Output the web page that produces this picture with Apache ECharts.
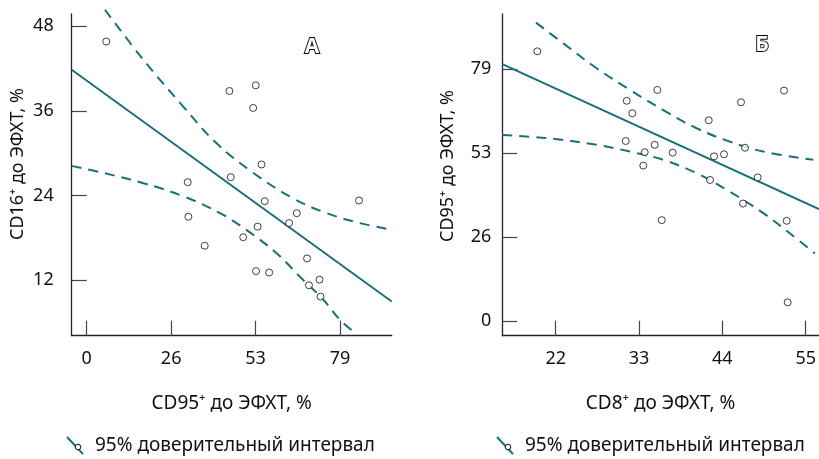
<!DOCTYPE html>
<html>
<head>
<meta charset="utf-8">
<script src="https://cdn.jsdelivr.net/npm/echarts@6/dist/echarts.min.js"></script>
<style>html,body{margin:0;padding:0;background:#fff}#c{width:819px;height:459px}</style>
</head>
<body>
<div id="c"></div>
<script>
// ---- Panel A data ----
var leftX = [6.1, 44.5, 52.7, 51.9, 54.5, 31.5, 44.9, 55.5, 84.9, 31.7, 65.5, 63.1, 53.3, 48.8, 36.8, 68.7, 52.8, 56.9, 72.6, 69.3, 72.9];
var leftY = [45.8, 38.8, 39.6, 36.4, 28.4, 25.9, 26.6, 23.2, 23.3, 21.0, 21.5, 20.1, 19.6, 18.1, 16.9, 15.1, 13.3, 13.1, 12.1, 11.3, 9.7];
var leftFitX = [-4.68, 95.1];
var leftFitY = [41.8, 9.0];
var leftUpperX = [5.7, 17.7, 30.1, 40.5, 52.0, 64.4, 74.9, 85.2, 94.6];
var leftUpperY = [50.3, 43.2, 36.6, 31.4, 27.2, 23.6, 21.5, 20.1, 19.2];
var leftLowerX = [-4.68, 5.2, 17.7, 30.1, 41.6, 49.9, 59.3, 66.5, 73.8, 79.0, 84.2];
var leftLowerY = [28.2, 27.2, 25.75, 23.9, 21.5, 19.1, 15.8, 12.5, 9.25, 6.4, 4.4];
var leftXTicks = [0, 79 / 3, 158 / 3, 79];
var leftYTicks = [12, 24, 36, 48];

// ---- Panel Б data ----
var rightX = [19.57, 35.41, 52.14, 31.37, 46.46, 32.11, 42.2, 31.24, 46.99, 35.07, 33.75, 37.44, 44.22, 42.9, 33.56, 48.66, 42.37, 46.72, 36.0, 52.49, 52.62];
var rightY = [84.6, 72.5, 72.3, 69.1, 68.65, 65.2, 63.0, 56.5, 54.4, 55.3, 53.0, 52.85, 52.35, 51.7, 48.8, 45.1, 44.3, 36.9, 31.7, 31.5, 5.96];
var rightFitX = [14.95, 56.75];
var rightFitY = [80.6, 35.2];
var rightUpperX = [19.4, 23.0, 27.4, 31.8, 36.2, 40.6, 45.0, 49.4, 56.0];
var rightUpperY = [93.6, 87.1, 79.3, 72.5, 66.2, 60.5, 56.3, 53.2, 50.6];
var rightLowerX = [14.95, 20.8, 27.4, 31.8, 36.2, 40.6, 45.0, 49.4, 52.9, 56.2];
var rightLowerY = [58.4, 57.4, 55.3, 53.2, 50.6, 46.4, 40.6, 33.9, 27.6, 21.3];
var rightXTicks = [22, 33, 44, 55];
var rightYTicks = [0, 79 / 3, 158 / 3, 79];

var leftXName = 'CD95⁺ до ЭФХТ, %';
var leftYName = 'CD16⁺ до ЭФХТ, %';
var rightXName = 'CD8⁺ до ЭФХТ, %';
var rightYName = 'CD95⁺ до ЭФХТ, %';
var legendText = '95% доверительный интервал';
var panelLabels = ['А', 'Б'];

function zip(a, b) { return a.map(function (v, i) { return [v, b[i]]; }); }

var TEAL = '#17707a';
var FONT = 'Noto Sans';
var AXIS = '#222';

function xAxisDef(idx, min, max, ticks, name) {
  return {
    type: 'value', gridIndex: idx, min: min, max: max,
    name: name, nameLocation: 'middle', nameGap: 58,
    nameTextStyle: { fontFamily: FONT, fontSize: 19, color: '#111' },
    splitLine: { show: false },
    axisLine: { show: true, onZero: false, lineStyle: { color: AXIS, width: 1.3 } },
    axisTick: { show: true, inside: true, length: 15, customValues: ticks, lineStyle: { color: '#444', width: 1.2 } },
    axisLabel: { customValues: ticks, margin: 14, fontFamily: FONT, fontSize: 18, color: '#111',
      formatter: function (v) { return String(Math.round(v)); } }
  };
}
function yAxisDef(idx, min, max, ticks, margin) {
  return {
    type: 'value', gridIndex: idx, min: min, max: max,
    splitLine: { show: false },
    axisLine: { show: true, onZero: false, lineStyle: { color: AXIS, width: 1.3 } },
    axisTick: { show: true, inside: true, length: 15, customValues: ticks, lineStyle: { color: '#444', width: 1.2 } },
    axisLabel: { customValues: ticks, margin: margin, fontFamily: FONT, fontSize: 18, color: '#111',
      formatter: function (v) { return String(Math.round(v)); } }
  };
}
function scatter(idx, xs, ys) {
  return { type: 'scatter', xAxisIndex: idx, yAxisIndex: idx, data: zip(xs, ys),
    symbol: 'circle', symbolSize: 7, z: 5,
    itemStyle: { color: '#fff', borderColor: '#111', borderWidth: 1 } };
}
function line(idx, xs, ys, dashed) {
  return { type: 'line', xAxisIndex: idx, yAxisIndex: idx, data: zip(xs, ys),
    showSymbol: false, clip: false, smooth: dashed ? 0.4 : false, z: 3,
    lineStyle: { color: TEAL, width: 2, type: dashed ? [10, 7] : 'solid' } };
}

var chart = echarts.init(document.getElementById('c'));
chart.setOption({
  animation: false,
  backgroundColor: '#fff',
  grid: [
    { left: 71.7, top: 14, width: 320, height: 321.7 },
    { left: 502.3, top: 14, width: 316.5, height: 321.7 }
  ],
  xAxis: [
    xAxisDef(0, -4.68, 95.1, leftXTicks, leftXName),
    xAxisDef(1, 14.95, 56.73, rightXTicks, rightXName)
  ],
  yAxis: [
    yAxisDef(0, 4.16, 49.7, leftYTicks, 18),
    yAxisDef(1, -4.5, 96.3, rightYTicks, 11)
  ],
  series: [
    line(0, leftFitX, leftFitY, false),
    line(0, leftUpperX, leftUpperY, true),
    line(0, leftLowerX, leftLowerY, true),
    scatter(0, leftX, leftY),
    line(1, rightFitX, rightFitY, false),
    line(1, rightUpperX, rightUpperY, true),
    line(1, rightLowerX, rightLowerY, true),
    scatter(1, rightX, rightY)
  ],
  graphic: [
    { type: 'text', x: 18, y: 164, rotation: Math.PI / 2,
      style: { text: leftYName, fontFamily: FONT, fontSize: 18, fill: '#111', align: 'center', verticalAlign: 'middle' } },
    { type: 'text', x: 448, y: 166, rotation: Math.PI / 2,
      style: { text: rightYName, fontFamily: FONT, fontSize: 18, fill: '#111', align: 'center', verticalAlign: 'middle' } },
    { type: 'text', x: 312, y: 47,
      style: { text: panelLabels[0], fontFamily: FONT, fontSize: 21, fontWeight: 'bold', fill: '#fff', stroke: '#000', lineWidth: 1.8, align: 'center', verticalAlign: 'middle' } },
    { type: 'text', x: 762, y: 45,
      style: { text: panelLabels[1], fontFamily: FONT, fontSize: 21, fontWeight: 'bold', fill: '#fff', stroke: '#000', lineWidth: 1.8, align: 'center', verticalAlign: 'middle' } },
    // legends
    { type: 'line', shape: { x1: 67, y1: 437, x2: 83, y2: 454 }, style: { stroke: TEAL, lineWidth: 2 } },
    { type: 'circle', shape: { cx: 78, cy: 447, r: 2.8 }, style: { fill: '#fff', stroke: '#111', lineWidth: 1 } },
    { type: 'text', x: 95, y: 446,
      style: { text: legendText, fontFamily: FONT, fontSize: 19, fill: '#111', align: 'left', verticalAlign: 'middle' } },
    { type: 'line', shape: { x1: 497, y1: 437, x2: 513, y2: 454 }, style: { stroke: TEAL, lineWidth: 2 } },
    { type: 'circle', shape: { cx: 508, cy: 447, r: 2.8 }, style: { fill: '#fff', stroke: '#111', lineWidth: 1 } },
    { type: 'text', x: 525, y: 446,
      style: { text: legendText, fontFamily: FONT, fontSize: 19, fill: '#111', align: 'left', verticalAlign: 'middle' } }
  ]
});
</script>
</body>
</html>
